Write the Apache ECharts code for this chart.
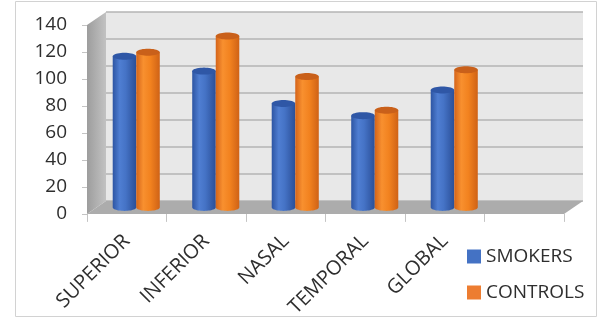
<!DOCTYPE html>
<html>
<head>
<meta charset="utf-8">
<script src="https://cdn.jsdelivr.net/npm/echarts@6/dist/echarts.min.js"></script>
<style>
  html, body { margin: 0; padding: 0; background: #ffffff; }
  #chart { width: 606px; height: 320px; }
</style>
</head>
<body>
<div id="chart"></div>
<script>
// Regions along the x axis (last slot is an empty category on the floor)
const categories = ['SUPERIOR', 'INFERIOR', 'NASAL', 'TEMPORAL', 'GLOBAL', ''];
// Series values
const smokers = [112, 101, 77, 68, 87];
const controls = [115, 127, 97, 72, 102];
// Value axis ticks
const valueTicks = [0, 20, 40, 60, 80, 100, 120, 140];

// 3D look: depth offset of the back wall relative to the front plane
const DEPTH_X = 19;
const DEPTH_Y = -13;
const BAR_FRACTION = 0.296;   // width of one cylinder as a share of a category band
const CAP_RY = 3.5;            // vertical radius of cylinder caps

const FONT = '"Open Sans", "Liberation Sans", sans-serif';
const TEXT_COLOR = '#2e2e2e';

function ellipsePoints(cx, cy, rx, ry, a0, a1, n) {
  const pts = [];
  for (let i = 0; i <= n; i++) {
    const a = a0 + (a1 - a0) * i / n;
    pts.push([cx + rx * Math.cos(a), cy + ry * Math.sin(a)]);
  }
  return pts;
}

// Walls, floor and back-wall gridlines
function renderWalls(params, api) {
  const cs = params.coordSys;
  const x0 = cs.x, x1 = cs.x + cs.width;
  const yTop = cs.y, yBot = cs.y + cs.height;
  const children = [];
  // back wall
  children.push({
    type: 'rect',
    shape: { x: x0 + DEPTH_X, y: yTop + DEPTH_Y, width: cs.width, height: cs.height },
    style: { fill: '#e8e8e8' }
  });
  // side wall
  children.push({
    type: 'polygon',
    shape: { points: [[x0, yTop], [x0 + DEPTH_X, yTop + DEPTH_Y], [x0 + DEPTH_X, yBot + DEPTH_Y], [x0, yBot]] },
    style: {
      fill: new echarts.graphic.LinearGradient(0, 0, 1, 0, [
        { offset: 0, color: '#9d9d9d' },
        { offset: 1, color: '#c2c2c2' }
      ])
    }
  });
  // back-wall gridlines
  valueTicks.forEach(function (v) {
    const y = api.coord([0, v])[1] + DEPTH_Y;
    children.push({
      type: 'line',
      shape: { x1: x0 + DEPTH_X, y1: y, x2: x1 + DEPTH_X, y2: y },
      style: { stroke: '#b5b5b5', lineWidth: 1.5 }
    });
  });
  // floor
  children.push({
    type: 'polygon',
    shape: { points: [[x0, yBot], [x0 + DEPTH_X, yBot + DEPTH_Y], [x1 + DEPTH_X, yBot + DEPTH_Y], [x1, yBot]] },
    style: { fill: '#acacac' }
  });
  return { type: 'group', children: children };
}

function cylinderRenderer(side, bodyStops, capColor) {
  return function (params, api) {
    const ci = api.value(0);
    const v = api.value(1);
    const base = api.coord([ci, 0]);
    const top = api.coord([ci, v]);
    const band = api.size([1, 0])[0];
    const bw = band * BAR_FRACTION;
    const rx = bw / 2;
    const cx = base[0] + DEPTH_X / 2 + side * rx;
    const yb = base[1] + DEPTH_Y / 2;
    const yt = top[1] + DEPTH_Y / 2;
    const body = [[cx - rx, yt], [cx - rx, yb]]
      .concat(ellipsePoints(cx, yb, rx, CAP_RY, Math.PI, 0, 24))
      .concat([[cx + rx, yt]]);
    return {
      type: 'group',
      children: [
        {
          type: 'polygon',
          shape: { points: body },
          style: { fill: new echarts.graphic.LinearGradient(0, 0, 1, 0, bodyStops) }
        },
        {
          type: 'polygon',
          shape: { points: ellipsePoints(cx, yt, rx, CAP_RY, 0, Math.PI * 2, 40) },
          style: { fill: capColor }
        }
      ]
    };
  };
}

const blueStops = [
  { offset: 0, color: '#2d55a3' },
  { offset: 0.3, color: '#4f7ed2' },
  { offset: 0.55, color: '#4573c6' },
  { offset: 1, color: '#2b4f98' }
];
const orangeStops = [
  { offset: 0, color: '#d5641a' },
  { offset: 0.3, color: '#f8902f' },
  { offset: 0.6, color: '#f2821f' },
  { offset: 1, color: '#cf6216' }
];

const chart = echarts.init(document.getElementById('chart'), null, { renderer: 'canvas' });

chart.setOption({
  animation: false,
  backgroundColor: '#ffffff',
  graphic: [{
    type: 'rect',
    shape: { x: 15.5, y: 1.5, width: 581, height: 315 },
    style: { fill: 'none', stroke: '#d2d2d2', lineWidth: 1 },
    silent: true,
    z: -10
  }],
  grid: { left: 87, right: 42, top: 25, bottom: 104 },
  legend: {
    orient: 'vertical',
    left: 462,
    top: 242,
    itemWidth: 14,
    itemHeight: 14,
    itemGap: 17,
    icon: 'rect',
    data: ['SMOKERS', 'CONTROLS'],
    textStyle: { fontFamily: FONT, fontSize: 19, color: TEXT_COLOR }
  },
  xAxis: {
    type: 'category',
    data: categories,
    boundaryGap: true,
    axisLine: { show: false },
    axisTick: { show: true, length: 8, lineStyle: { color: '#c4c4c4' } },
    axisLabel: {
      rotate: 45,
      interval: 0,
      margin: 24,
      fontFamily: FONT,
      fontSize: 20,
      color: TEXT_COLOR
    },
    splitLine: { show: false }
  },
  yAxis: {
    type: 'value',
    min: 0,
    max: 140,
    interval: 20,
    axisLine: { show: false },
    axisTick: { show: true, length: 5, lineStyle: { color: '#c4c4c4' } },
    axisLabel: { margin: 20, fontFamily: FONT, fontSize: 19, color: TEXT_COLOR },
    splitLine: { show: false }
  },
  series: [
    {
      name: 'walls',
      type: 'custom',
      silent: true,
      clip: false,
      z: 1,
      renderItem: renderWalls,
      data: [[0, 0]]
    },
    {
      name: 'SMOKERS',
      type: 'custom',
      clip: false,
      z: 3,
      itemStyle: { color: '#4472C4' },
      renderItem: cylinderRenderer(-1, blueStops, '#2f57a6'),
      encode: { x: 0, y: 1 },
      data: smokers.map(function (v, i) { return [i, v]; })
    },
    {
      name: 'CONTROLS',
      type: 'custom',
      clip: false,
      z: 4,
      itemStyle: { color: '#ED7D31' },
      renderItem: cylinderRenderer(1, orangeStops, '#c9601a'),
      encode: { x: 0, y: 1 },
      data: controls.map(function (v, i) { return [i, v]; })
    }
  ]
});
</script>
</body>
</html>
